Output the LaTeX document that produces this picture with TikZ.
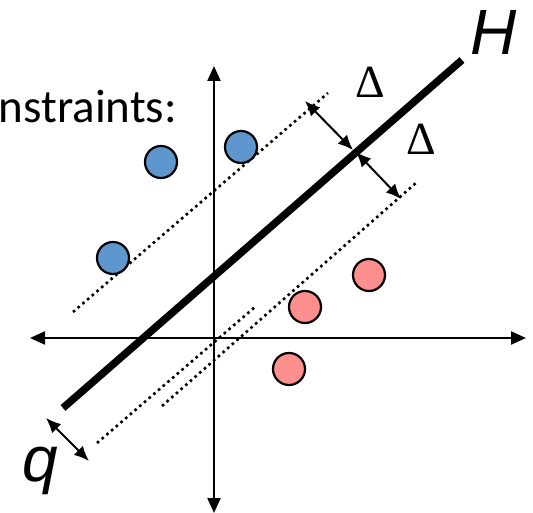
\documentclass[tikz,border=0pt]{standalone}
\usepackage{fontspec}
\setmainfont{Carlito}
\newfontfamily\arialit{Liberation Sans Italic}
\newfontfamily\timesf{Liberation Serif}
\usetikzlibrary{arrows.meta}
\definecolor{ptblue}{RGB}{94,151,206}
\definecolor{ptred}{RGB}{255,143,143}
\tikzset{
  axisline/.style={line width=2.2pt,{Triangle[length=15pt,width=13pt]}-{Triangle[length=15pt,width=13pt]}},
  hline/.style={line width=7.5pt},
  dotline/.style={line width=2.6pt,dash pattern=on 2.6pt off 3.6pt},
  dimarrow/.style={line width=2pt,{Latex[length=15pt,width=13pt]}-{Latex[length=15pt,width=13pt]},shorten <=0pt,shorten >=0pt},
  pt/.style={circle,draw=black,line width=2.2pt,minimum size=32pt,inner sep=0pt},
  bluept/.style={pt,fill=ptblue},
  redpt/.style={pt,fill=ptred},
  lab/.style={inner sep=0pt}
}
\begin{document}
\begin{tikzpicture}[x=1pt,y=-1pt]
\useasboundingbox (0,0) rectangle (533,513);
% axes
\coordinate (xl) at (30,338);
\coordinate (xr) at (526,338);
\coordinate (yt) at (214,66);
\coordinate (yb) at (214,513);
\draw[axisline] (xl) -- (xr);
\draw[axisline] (yb) -- (yt);
% dotted margin lines
\coordinate (d1a) at (73,312);
\coordinate (d1b) at (328,93);
\coordinate (d2a) at (162,406);
\coordinate (d2b) at (417,182);
\coordinate (d3a) at (97,443);
\coordinate (d3b) at (255,307);
\draw[dotline] (d1a) -- (d1b);
\draw[dotline] (d2a) -- (d2b);
\draw[dotline] (d3a) -- (d3b);
% hyperplane
\coordinate (ha) at (63,408);
\coordinate (hb) at (462,60);
\draw[hline] (ha) -- (hb);
% points
\node[bluept] (b1) at (161,162) {};
\node[bluept] (b2) at (241,147) {};
\node[bluept] (b3) at (113,258) {};
\node[redpt] (r1) at (369,275) {};
\node[redpt] (r2) at (305,307) {};
\node[redpt] (r3) at (289,369) {};
% dimension arrows
\coordinate (a1s) at (305,101);
\coordinate (a1e) at (353,150);
\coordinate (a2s) at (356,152);
\coordinate (a2e) at (401,199);
\coordinate (a3s) at (46,418);
\coordinate (a3e) at (89,461);
\draw[dimarrow] (a1s) -- (a1e);
\draw[dimarrow] (a2s) -- (a2e);
\draw[dimarrow] (a3s) -- (a3e);
% labels
\node[lab,anchor=base west] (tH) at (470,55) {\fontsize{64}{64}\arialit H};
\node[lab,anchor=base west] (tD1) at (355,98) {\fontsize{46}{46}\timesf Δ};
\node[lab,anchor=base west] (tD2) at (406,155) {\fontsize{46}{46}\timesf Δ};
\node[lab,anchor=base west] (tq) at (22,481) {\fontsize{64}{64}\arialit q};
\node[lab,anchor=base east] (tc) at (177,123) {\fontsize{47}{47}\selectfont Constraints:};
\end{tikzpicture}
\end{document}
